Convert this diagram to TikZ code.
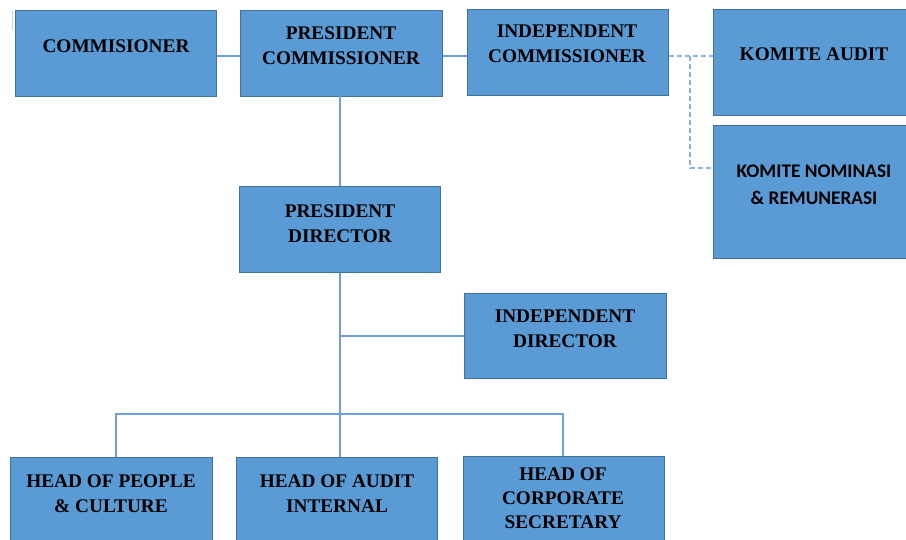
\documentclass[tikz,border=0pt]{standalone}
\usepackage{fontspec}
\setmainfont{Liberation Serif}
\newfontfamily\calib{Carlito}
\definecolor{boxfill}{HTML}{5B9BD5}
\definecolor{boxborder}{HTML}{41719C}
\definecolor{linecol}{HTML}{6F9FD8}
\definecolor{dashcol}{HTML}{8DB4E2}
\begin{document}
\begin{tikzpicture}[x=1pt,y=-1pt,
  box/.style={draw=boxborder, line width=1.1pt, fill=boxfill, inner sep=0pt, anchor=north west},
  lbl/.style={font=\bfseries\fontsize{19.3}{25}\selectfont, align=center, text=black, inner sep=0pt},
  slbl/.style={font=\calib\bfseries\fontsize{19.3}{27}\selectfont, align=center, text=black, inner sep=0pt},
  conn/.style={draw=linecol, line width=1.2pt},
  dconn/.style={draw=dashcol, line width=1.2pt, dash pattern=on 5pt off 3pt}]
\useasboundingbox (0,0) rectangle (906,539);
\clip (0,0) rectangle (906,539);
\fill[white] (0,0) rectangle (906,539);
\draw[gray!35, line width=1pt] (12,10) -- (12,30);
% boxes
\node[box, minimum width=201pt, minimum height=86pt] (comm) at (15,10) {};
\node[box, minimum width=202pt, minimum height=86pt] (pcomm) at (240,10) {};
\node[box, minimum width=201pt, minimum height=86pt] (icomm) at (467,9) {};
\node[box, minimum width=210pt, minimum height=106pt] (kaudit) at (713,9) {};
\node[box, minimum width=210pt, minimum height=133pt] (knom) at (713,125) {};
\node[box, minimum width=201pt, minimum height=86pt] (pdir) at (239,186) {};
\node[box, minimum width=202pt, minimum height=85pt] (idir) at (464,293) {};
\node[box, minimum width=202pt, minimum height=100pt] (hpeople) at (10,457) {};
\node[box, minimum width=201pt, minimum height=100pt] (haudit) at (236,457) {};
\node[box, minimum width=201pt, minimum height=100pt] (hcorp) at (463,456) {};
% labels
\node[lbl] (commT) at (116,46) {COMMISIONER};
\node[lbl] (pcommT) at (341,45.5) {PRESIDENT\\COMMISSIONER};
\node[lbl] (icommT) at (567,43.5) {INDEPENDENT\\COMMISSIONER};
\node[lbl] (kauditT) at (814,54) {KOMITE AUDIT};
\node[slbl] (knomT) at (814,184.5) {KOMITE NOMINASI\\\& REMUNERASI};
\node[lbl] (pdirT) at (340,223.5) {PRESIDENT\\DIRECTOR};
\node[lbl] (idirT) at (565,328.5) {INDEPENDENT\\DIRECTOR};
\node[lbl] (hpeopleT) at (111,493.5) {HEAD OF PEOPLE\\\& CULTURE};
\node[lbl, font=\bfseries\fontsize{19.3}{24}\selectfont] (hcorpT) at (563,498) {HEAD OF\\CORPORATE\\SECRETARY};
\node[lbl] (hauditT) at (337,493.5) {HEAD OF AUDIT\\INTERNAL};
% coordinates
\coordinate (yTop) at (0,56);
\coordinate (yNom) at (0,168);
\coordinate (dj) at (690,56);
\coordinate (busL) at (116,414);
\coordinate (busR) at (563,414);
% connectors
\draw[conn] (comm.east |- yTop) -- (pcomm.west |- yTop);
\draw[conn] (pcomm.east |- yTop) -- (icomm.west |- yTop);
\draw[dconn] (icomm.east |- yTop) -- (kaudit.west |- yTop);
\draw[dconn] (dj) |- (knom.west |- yNom);
\draw[conn] (340,96) -- (340,186);
\draw[conn] (pdir.south) -- (pdir.south |- haudit.north);
\draw[conn] (pdir.south |- idir.west) -- (idir.west);
\draw[conn] (busL |- hpeople.north) -- (busL) -- (busR) -- (busR |- hcorp.north);
\end{tikzpicture}
\end{document}
